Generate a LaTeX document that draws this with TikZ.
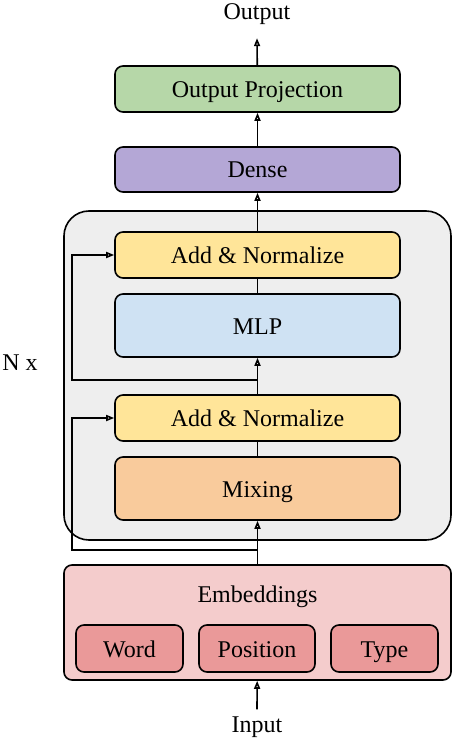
\documentclass[tikz,border=0pt]{standalone}
\usepackage{fontspec}
\setmainfont{Liberation Serif}
\usepackage{tikz}
\usetikzlibrary{arrows.meta}
\definecolor{projgreen}{HTML}{B6D7A8}
\definecolor{densepurple}{HTML}{B4A7D6}
\definecolor{normyellow}{HTML}{FFE599}
\definecolor{mlpblue}{HTML}{CFE2F3}
\definecolor{mixorange}{HTML}{F9CB9C}
\definecolor{embpink}{HTML}{F4CCCC}
\definecolor{tokred}{HTML}{EA9999}
\definecolor{stackgray}{HTML}{EEEEEE}
\begin{document}
\begin{tikzpicture}[x=1pt,y=-1pt,
    every node/.style={font=\rmfamily\fontsize{24}{28}\selectfont, text height=17pt, text depth=0pt},
    layer/.style={draw, line width=1.6pt, rounded corners=8pt, minimum width=285pt, inner sep=0pt},
    tok/.style={draw, line width=1.6pt, rounded corners=8pt, fill=tokred, minimum height=47pt, inner sep=0pt},
    arr/.style={line width=1.6pt, -{Triangle[open,length=8pt,width=6pt]}},
    link/.style={line width=1.6pt}]
    \useasboundingbox (0,0) rectangle (452,738);
    \node[draw, line width=1.6pt, rounded corners=25pt, fill=stackgray, minimum width=387pt, minimum height=329pt] (stack) at (257.5,375.5) {};
    \node at (20,362) (nx) {N x};
    \node[layer, fill=projgreen, minimum height=46pt] (op) at (257.5,89) {Output Projection};
    \node[layer, fill=densepurple, minimum height=45pt] (dense) at (257.5,169.5) {Dense};
    \node[layer, fill=normyellow, minimum height=46pt] (an2) at (257.5,255) {Add \& Normalize};
    \node[layer, fill=mlpblue, minimum height=63pt] (mlp) at (257.5,325.5) {MLP};
    \node[layer, fill=normyellow, minimum height=46pt] (an1) at (257.5,418) {Add \& Normalize};
    \node[layer, fill=mixorange, minimum height=63pt] (mix) at (257.5,488.5) {Mixing};
    \node[layer, fill=embpink, minimum width=387pt, minimum height=115pt] (emb) at (257.5,622.5) {};
    \node at (257.5,594) (embtxt) {Embeddings};
    \node[tok, minimum width=107pt] (word) at (129.5,648.5) {Word};
    \node[tok, minimum width=116pt] (pos) at (257,648.5) {Position};
    \node[tok, minimum width=107pt] (type) at (384.5,648.5) {Type};
    \node[inner sep=0pt] at (257,11.5) (out) {Output};
    \node[inner sep=0pt] at (257,724) (in) {Input};
    \coordinate (r1) at (257,550);
    \coordinate (r2) at (257,380);
    \draw[arr] (op) -- ([yshift=-18]out.south);
    \draw[arr] (dense) -- (op);
    \draw[arr] (an2) -- (dense);
    \draw[link] (mlp) -- (an2);
    \draw[arr] (an1) -- (mlp);
    \draw[link] (mix) -- (an1);
    \draw[arr] (emb) -- (mix);
    \draw[arr] ([yshift=6]in.north) -- (emb);
    \draw[arr] (r1) -| ([xshift=-42]an1.west) -- (an1.west);
    \draw[arr] (r2) -| ([xshift=-42]an2.west) -- (an2.west);
\end{tikzpicture}
\end{document}
